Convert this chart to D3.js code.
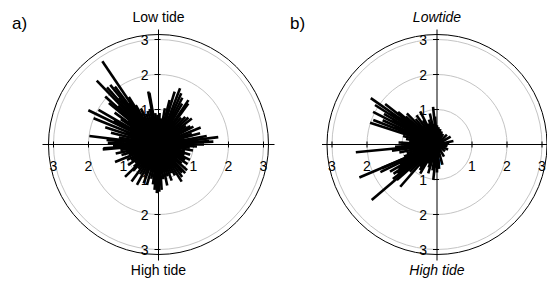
<!DOCTYPE html>
<html>
<head>
<meta charset="utf-8">
<script src="https://cdn.jsdelivr.net/npm/d3@7"></script>
<style>
  body { margin: 0; background: #fff; }
  text { font-family: "Liberation Sans", Arial, sans-serif; fill: #000; }
</style>
</head>
<body>
<svg id="chart" width="547" height="282"></svg>
<script>
// ---- data (angle in degrees clockwise from low tide, length in radial units) ----
var aAngles = [
  326, 316, 318, 321, 323, 312, 320, 328, 310, 314,
  324, 330, 306, 296, 292, 300, 298, 304, 288, 284,
  277, 275, 272, 268, 265, 266, 262, 258, 255, 280,
  290, 308, 334, 338, 342, 346, 349, 350, 348, 354,
  358, 2, 6, 10, 14, 17, 21, 24, 27, 30,
  34, 36, 40, 44, 48, 52, 56, 60, 63, 68,
  72, 75, 80, 83, 86, 87, 90, 93, 96, 100,
  105, 108, 112, 116, 120, 124, 129, 132, 137, 140,
  144, 148, 152, 156, 160, 164, 168, 172, 176, 179,
  182, 185, 188, 192, 196, 201, 204, 208, 212, 216,
  220, 226, 224, 228, 232, 236, 240, 244, 248, 251,
  254, 3, 8, 12, 18, 26, 32, 38, 46, 54,
  62, 70, 78, 88, 98, 110, 118, 126, 134, 142,
  150, 158, 166, 174, 184, 190, 198, 206, 214, 222,
  230, 238, 246, 256, 260, 270, 278, 286, 294, 302,
  311, 319, 332, 340, 352, 356
];
var aLengths = [
  2.87, 2.54, 2.2, 2.19, 2.07, 2.05, 1.75, 1.6, 1.85, 1.6,
  1.45, 1.3, 1.55, 2.23, 2.0, 1.98, 1.45, 1.3, 1.6, 1.4,
  1.99, 1.49, 1.45, 1.3, 1.6, 1.58, 1.1, 1.25, 0.95, 1.15,
  1.0, 1.1, 1.15, 0.95, 1.0, 1.05, 1.54, 1.5, 0.91, 0.9,
  0.85, 0.9, 0.75, 1.05, 1.31, 1.58, 1.72, 1.6, 1.5, 1.35,
  1.53, 1.45, 1.0, 1.1, 1.15, 1.21, 0.95, 1.05, 1.12, 1.3,
  1.0, 1.23, 1.4, 1.72, 1.45, 1.57, 1.3, 1.1, 0.9, 1.0,
  0.78, 0.95, 0.8, 1.0, 0.88, 1.0, 0.85, 1.1, 1.12, 1.05,
  1.15, 1.25, 1.0, 0.9, 1.1, 0.95, 1.2, 1.0, 1.3, 1.35,
  1.39, 1.3, 1.15, 1.0, 1.2, 1.19, 0.95, 1.31, 1.0, 1.31,
  0.9, 1.33, 1.05, 0.95, 0.85, 1.05, 0.9, 1.0, 1.34, 0.9,
  1.1, 0.6, 0.5, 0.7, 0.65, 0.55, 0.8, 0.7, 0.6, 0.75,
  0.8, 0.65, 0.7, 0.6, 0.75, 0.7, 0.6, 0.65, 0.7, 0.8,
  0.75, 0.7, 0.8, 0.85, 0.9, 0.8, 0.75, 0.7, 0.8, 0.75,
  0.7, 0.8, 0.75, 0.8, 0.85, 0.9, 0.8, 0.85, 0.9, 0.95,
  0.9, 1.0, 0.85, 0.75, 0.7, 0.6
];

var bAngles = [
  305, 302.5, 297, 291, 288, 300, 304, 308, 310, 294,
  299, 306, 312, 316, 320, 325, 333, 347, 354, 356,
  330, 338, 342, 350, 0, 5, 12, 20, 30, 45,
  60, 78, 84, 92, 100, 115, 130, 150, 165, 175,
  180, 186, 190, 197, 200, 205, 210, 214, 218, 221,
  225, 229.6, 228.6, 232, 234, 236, 238, 240, 242, 244,
  247, 246.7, 250, 254, 258, 262, 264.5, 267, 270, 273,
  276, 280, 284, 290, 292, 260, 268, 282, 322, 310
];
var bLengths = [
  2.31, 2.1, 2.05, 1.95, 2.01, 1.75, 1.6, 1.88, 1.45, 1.7,
  1.45, 1.3, 1.2, 1.24, 0.95, 1.02, 1.06, 0.91, 1.08, 0.8,
  0.8, 0.65, 0.75, 0.6, 0.55, 0.5, 0.45, 0.4, 0.35, 0.4,
  0.45, 0.48, 0.35, 0.3, 0.3, 0.35, 0.3, 0.4, 0.6, 0.7,
  0.8, 1.02, 0.75, 0.86, 0.7, 0.6, 0.96, 0.88, 0.8, 1.6,
  1.1, 2.45, 1.53, 1.6, 1.4, 1.5, 1.3, 1.55, 1.2, 1.8,
  2.41, 1.72, 1.0, 0.9, 1.1, 1.3, 2.33, 1.2, 0.95, 1.1,
  0.8, 0.9, 1.0, 1.1, 1.3, 0.7, 0.6, 0.55, 0.5, 0.6
];

var ringValues = [1, 2, 3];
var tickLabels = ["1", "2", "3"];

var svg = d3.select("#chart");

// radial scale shared by both panels
var r = d3.scaleLinear().domain([0, 3]).range([0, 105]);

function drawPanel(cx, cy, angles, lengths, opts) {
  var g = svg.append("g").attr("transform", "translate(" + cx + "," + cy + ")");
  var rad = function(d) { return d * Math.PI / 180; };

  // grey rings
  g.selectAll(".ring").data(ringValues).enter().append("circle")
    .attr("r", function(d) { return r(d); })
    .attr("fill", "none").attr("stroke", "#c4c4c4").attr("stroke-width", 1);

  // outer frame
  g.append("circle").attr("r", 110)
    .attr("fill", "none").attr("stroke", "#000").attr("stroke-width", 1);

  // axes
  g.append("line").attr("x1", opts.xLeft).attr("x2", opts.xRight).attr("y1", 0).attr("y2", 0)
    .attr("stroke", "#000").attr("stroke-width", 1);
  g.append("line").attr("x1", 0).attr("x2", 0).attr("y1", -115).attr("y2", 116)
    .attr("stroke", "#000").attr("stroke-width", 1);

  // ticks on horizontal axis (both sides)
  var hTicks = [];
  ringValues.forEach(function(v, i) { hTicks.push({v: -v, t: tickLabels[i]}); hTicks.push({v: v, t: tickLabels[i]}); });
  g.selectAll(".htick").data(hTicks).enter().append("line")
    .attr("x1", function(d) { return d.v < 0 ? -r(-d.v) : r(d.v); })
    .attr("x2", function(d) { return d.v < 0 ? -r(-d.v) : r(d.v); })
    .attr("y1", -3).attr("y2", 3).attr("stroke", "#000");
  g.selectAll(".hlab").data(hTicks).enter().append("text")
    .attr("x", function(d) { return d.v < 0 ? -r(-d.v) : r(d.v); })
    .attr("y", 26).attr("text-anchor", "middle").style("font-size", "14px")
    .text(function(d) { return d.t; });

  // ticks on vertical axis (both sides)
  g.selectAll(".vtick").data(hTicks).enter().append("line")
    .attr("y1", function(d) { return d.v < 0 ? -r(-d.v) : r(d.v); })
    .attr("y2", function(d) { return d.v < 0 ? -r(-d.v) : r(d.v); })
    .attr("x1", -4).attr("x2", 2).attr("stroke", "#000");
  g.selectAll(".vlab").data(hTicks).enter().append("text")
    .attr("y", function(d) { return d.v < 0 ? -r(-d.v) : r(d.v); })
    .attr("x", -10).attr("dy", "0.36em").attr("text-anchor", "end").style("font-size", "14px")
    .text(function(d) { return d.t; });

  g.append("text").attr("x", 0).attr("y", 23).attr("text-anchor", "middle")
    .style("font-size", "14px").text("0");

  // radial data lines
  var idx = d3.range(angles.length);
  g.selectAll(".ray").data(idx).enter().append("line")
    .attr("x1", 0).attr("y1", 0)
    .attr("x2", function(i) { return r(lengths[i]) * Math.sin(rad(angles[i])); })
    .attr("y2", function(i) { return -r(lengths[i]) * Math.cos(rad(angles[i])); })
    .attr("stroke", "#000").attr("stroke-width", 2.6);

  // titles
  svg.append("text").attr("x", cx).attr("y", 22).attr("text-anchor", "middle")
    .style("font-size", "14px").style("font-style", opts.italic ? "italic" : "normal")
    .text(opts.top);
  svg.append("text").attr("x", cx).attr("y", 275).attr("text-anchor", "middle")
    .style("font-size", "14px").style("font-style", opts.italic ? "italic" : "normal")
    .text(opts.bottom);
  svg.append("text").attr("x", opts.letterX).attr("y", 29)
    .style("font-size", "17px").text(opts.letter);
}

drawPanel(158.5, 144.5, aAngles, aLengths,
  {xLeft: -116, xRight: 116, italic: false, top: "Low tide", bottom: "High tide", letter: "a)", letterX: 12});
drawPanel(437, 144.5, bAngles, bLengths,
  {xLeft: -115, xRight: 112, italic: true, top: "Lowtide", bottom: "High tide", letter: "b)", letterX: 290});
</script>
</body>
</html>
